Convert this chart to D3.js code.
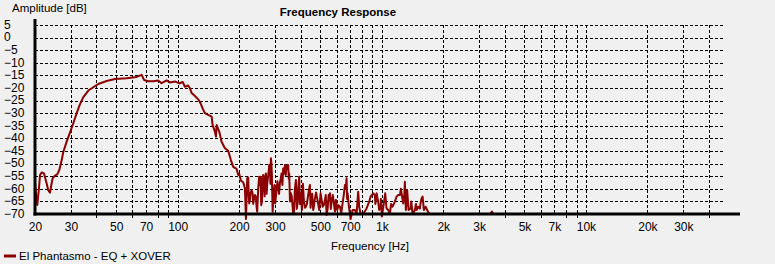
<!DOCTYPE html>
<html><head><meta charset="utf-8">
<script src="https://cdn.jsdelivr.net/npm/d3@7"></script>
<style>
body{margin:0;background:#f0f0f0;}
svg{display:block;font-family:"Liberation Sans",Arial,sans-serif;}
</style></head><body><svg width="775" height="264"></svg>
<script>
const freqs = [20.0,20.23,20.52,20.91,21.17,21.58,22.13,22.8,23.2,23.69,23.96,24.4,25.04,25.7,26.31,27.03,27.5,28.58,29.67,30.8,32.0,33.2,34.5,36.5,38.6,40.8,44.9,49.3,56.2,63.0,66.6,68.4,71.8,75.9,80.3,83.4,88.3,91.6,97.0,101.8,105.8,108.5,112.6,114.8,117.1,121.5,126.1,129.5,132.5,136.0,141.1,146.7,148.3,152.2,154.0,155.2,159.8,164.1,170.4,176.8,182.3,187.1,194.4,198.0,200.2,204.1,209.4,213.5,216.0,219.2,221.6,224.1,227.6,232.8,236.2,241.6,245.2,250.8,254.8,258.6,262.4,270.6,274.6,279.0,283.1,286.3,289.5,291.8,296.1,300.4,305.3,310.9,316.8,322.9,328.8,335.2,341.7,348.0,351.9,358.6,365.6,371.0,379.5,386.8,393.9,400.2,406.1,415.4,424.9,434.6,444.5,450.9,461.3,470.2,482.5,493.7,501.5,512.9,526.3,536.6,548.8,556.9,567.6,582.6,595.9,604.6,623.4,642.6,659.5,672.2,679.9,690.0,703.3,719.4,738.0,752.4,766.1,774.8,787.2,810.5,842.2,867.3,881.0,907.4,924.8,942.7,959.8,970.6,986.2,1000.8,1023,1039,1055,1075,1095,1129,1159,1181,1203,1226,1250,1273,1297,1312,1331,1352,1383,1415,1452,1480,1507,1536,1566,1584,1607,1638,1668,1694,1719,3400,3459,3520];
const amps = [-57.6,-62,-66.4,-59.8,-54.5,-53.5,-53.9,-57.8,-60.5,-61.5,-59.2,-55.8,-54.8,-54.3,-52.5,-48.6,-45.5,-41.3,-37.7,-34,-30,-26.5,-23.6,-21,-19.7,-18.4,-17.2,-16.4,-16.1,-15.6,-14.8,-16.8,-17.3,-17.3,-17.0,-18.1,-17.0,-17.8,-17.4,-18.2,-17.6,-19.5,-19.0,-20.1,-22.0,-23.2,-24.5,-26.1,-28.1,-30.0,-30.7,-31.4,-34.7,-37.3,-39.3,-34.7,-37.3,-41.3,-43.9,-44.9,-48.6,-51.3,-52.1,-54.5,-54.0,-56.8,-57.4,-59.8,-72.0,-55.8,-55.5,-65.8,-61.8,-61.8,-64.4,-63.1,-69.1,-55.2,-55.2,-65.1,-54.5,-53.9,-57.8,-53.2,-51.5,-47.9,-55.2,-69.1,-60.5,-65.8,-60.5,-59.2,-57.8,-53.9,-51.9,-50.6,-51.0,-50.6,-53.9,-61.8,-67.1,-69.7,-56.5,-65.8,-55.2,-61.8,-68.4,-65.1,-67.1,-63.1,-58.5,-64.4,-68.4,-63.8,-63.8,-68.4,-61.8,-67.1,-64.4,-70.4,-62.5,-61.8,-65.1,-65.8,-64.4,-68.4,-67.1,-65.8,-58.5,-55.8,-61.8,-67.1,-72,-68.4,-68.4,-70,-61.2,-67.1,-70,-70,-67.8,-65.1,-63.1,-61.8,-62.5,-61.8,-65.1,-68.4,-67.1,-71,-65.8,-61.8,-67.8,-68.4,-70,-67.1,-65.1,-63.1,-62.5,-62.5,-61.8,-65.8,-57.2,-68.4,-60.5,-68.4,-67.8,-70,-68.4,-68.4,-67.1,-67.8,-63.8,-63.1,-68.4,-67.1,-68.4,-69.5,-70,-70,-69,-70];
// extra readings from the dense, spiky part of the response (200 Hz - 1.6 kHz)
const freqsExtra = [222.8,225.8,230,234.5,239,243.4,248,252.8,256.7,260.5,266.5,268.6,272.6,277,281,284.7,287.9,290.6,293.9,298.2,302.8,308,313.8,319.8,325.8,331.9,338.4,344.8,350,355,362,368.3,375.2,383,390.3,397,403,410.7,420,429.7,439.5,447.7,456,465.8,476.3,488,497.6,507.2,519.6,531.4,542.7,552.8,562.4,575.3,589.2,614,633,651,665.8,676,930,990,1110,1240,1290,1305,1395,1470,1550];
const ampsExtra = [-62,-64.5,-60.5,-66,-62.5,-67,-60,-58.5,-66.5,-56,-63,-55,-62,-55.5,-50.5,-58,-50,-62,-64.5,-58.5,-63,-57,-62,-56,-58.5,-54,-54.5,-52,-56,-65,-63,-70,-60,-68,-59,-66,-64.5,-58,-67.5,-66,-60.5,-67.5,-62,-66.5,-61.5,-66,-65,-64.5,-66.5,-62.5,-68,-64.5,-68,-62.5,-69,-66.5,-69.5,-62.5,-60,-64,-66,-64,-66,-60,-62,-64,-65,-66,-65.5];
const yTicks = [5,0,-5,-10,-15,-20,-25,-30,-35,-40,-45,-50,-55,-60,-65,-70];
const xGridTicks = [20,30,40,50,60,70,80,90,100,200,300,400,500,600,700,800,900,1000,2000,3000,4000,5000,6000,7000,8000,9000,10000,20000,30000,40000];
const xLabelVals = [20,30,50,70,100,200,300,500,700,1000,2000,3000,5000,7000,10000,20000,30000];
const xLabelText = ["20","30","50","70","100","200","300","500","700","1k","2k","3k","5k","7k","10k","20k","30k"];
const seriesName = "El Phantasmo - EQ + XOVER";

const pts = freqs.map((f, i) => [f, amps[i]])
  .concat(freqsExtra.map((f, i) => [f, ampsExtra[i]]))
  .sort((a, b) => a[0] - b[0]);

const svg = d3.select("svg");
const x = d3.scaleLog().domain([20, 48000]).range([35, 725]);
const y = d3.scaleLinear().domain([-70, 5]).range([214, 25]);
const col = "#8B0000";

// horizontal grid
svg.append("g").selectAll("line").data(yTicks.filter(v => v > -70)).join("line")
  .attr("x1", 35).attr("x2", 725)
  .attr("y1", d => Math.round(y(d)) + 0.5).attr("y2", d => Math.round(y(d)) + 0.5)
  .attr("stroke", "#000").attr("stroke-width", 1).attr("stroke-dasharray", "3,2");
// vertical grid
svg.append("g").selectAll("line").data(xGridTicks.filter(v => v > 20)).join("line")
  .attr("x1", d => Math.round(x(d)) + 0.5).attr("x2", d => Math.round(x(d)) + 0.5)
  .attr("y1", 25).attr("y2", d => xLabelVals.includes(d) ? 214 : 220)
  .attr("stroke", "#000").attr("stroke-width", 1).attr("stroke-dasharray", "3,2");

// curve
const line = d3.line().x(d => x(d[0])).y(d => y(d[1]));
svg.append("path").datum(pts).attr("d", line)
  .attr("fill", "none").attr("stroke", col).attr("stroke-width", 2).attr("stroke-linejoin", "round");

// axes lines
svg.append("line").attr("x1", 35).attr("x2", 35).attr("y1", 19).attr("y2", 215.5)
  .attr("stroke", "#000").attr("stroke-width", 3);
svg.append("line").attr("x1", 33.5).attr("x2", 740).attr("y1", y(-70)).attr("y2", y(-70))
  .attr("stroke", "#000").attr("stroke-width", 3);

// y labels
const yAx = svg.append("g").call(d3.axisLeft(y).tickValues(yTicks).tickSize(0).tickFormat(d3.format("d")));
yAx.select(".domain").remove();
yAx.selectAll("text").attr("x", 4).attr("text-anchor", "start").attr("dy", "0.28em")
  .attr("font-size", 12).attr("font-family", "Liberation Sans, Arial, sans-serif").attr("fill", "#000");

// x labels
const xAx = svg.append("g").attr("transform", "translate(0,214)")
  .call(d3.axisBottom(x).tickValues(xLabelVals).tickSize(0).tickPadding(8)
    .tickFormat((d, i) => xLabelText[i]));
xAx.select(".domain").remove();
xAx.selectAll("text").attr("font-size", 12).attr("font-family", "Liberation Sans, Arial, sans-serif").attr("fill", "#000");

// titles
svg.append("text").attr("x", 12).attr("y", 12).attr("font-size", 11.5).attr("fill", "#000").text("Amplitude [dB]");
svg.append("text").attr("x", 338).attr("y", 16).attr("text-anchor", "middle").attr("font-size", 11.5)
  .attr("font-weight", "bold").attr("fill", "#000").text("Frequency Response");
svg.append("text").attr("x", 370).attr("y", 250).attr("text-anchor", "middle").attr("font-size", 11.5)
  .attr("fill", "#000").text("Frequency [Hz]");

// legend
svg.append("line").attr("x1", 4).attr("x2", 16).attr("y1", 256).attr("y2", 256)
  .attr("stroke", col).attr("stroke-width", 3);
svg.append("text").attr("x", 19).attr("y", 260).attr("font-size", 11.5).attr("fill", "#000").text(seriesName);
</script></body></html>
